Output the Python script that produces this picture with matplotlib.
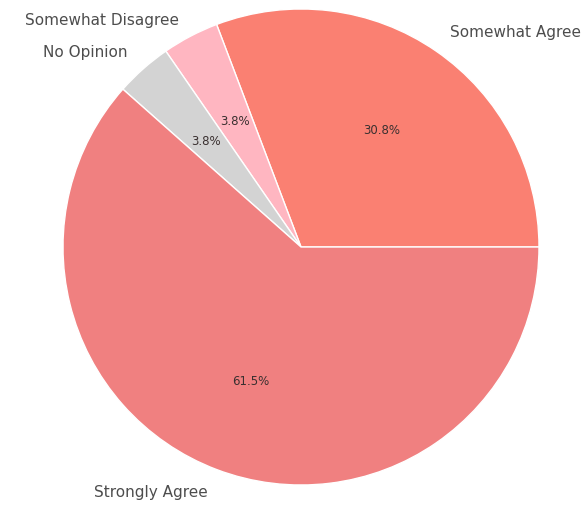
import numpy as np
import matplotlib
matplotlib.use('Agg')
import matplotlib.pyplot as plt

# survey answers, counter-clockwise from 3 o'clock
labels = ['Somewhat Agree', 'Somewhat Disagree', 'No Opinion', 'Strongly Agree']
counts = [8, 1, 1, 16]
colors = ['#fa8072', '#ffb6c1', '#d3d3d3', '#f08080']

fig = plt.figure(figsize=(5.85, 5.06), dpi=100)
ax = fig.add_axes([0, 0, 1, 1])

wedges, texts, autotexts = ax.pie(counts, labels=labels, colors=colors,
                                  autopct='%1.1f%%', startangle=0,
                                  labeldistance=1.1, pctdistance=0.6,
                                  wedgeprops={'edgecolor': 'white', 'linewidth': 1},
                                  textprops={'fontsize': 11, 'color': '#4d4d4d'})
for t in autotexts:
    t.set_fontsize(8.5)
    t.set_color('#3a3030')

# keep outer labels inside the frame
for t in texts:
    x, y = t.get_position()
    t.set_position((x, min(max(y, -1.045), 0.955)))

# 1 unit = 238 px, centre at (301, 248) px
ax.set_aspect('auto')
ax.set_xlim(-301 / 238., (585 - 301) / 238.)
ax.set_ylim(-(506 - 248) / 238., 248 / 238.)
ax.axis('off')

fig.savefig('out.png', dpi=100)
